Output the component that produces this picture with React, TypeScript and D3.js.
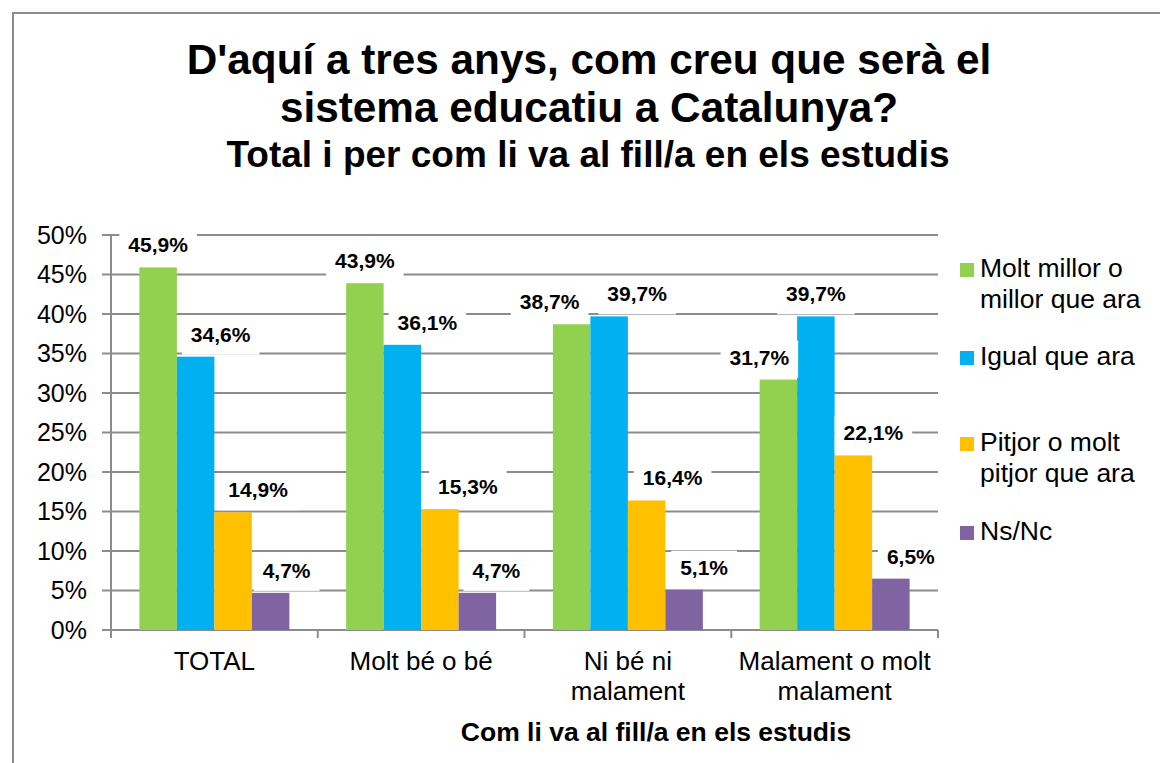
import React, { useEffect, useRef } from 'react'
import * as d3 from 'd3'

// categories (x axis groups)
const categories = ['TOTAL', 'Molt bé o bé', 'Ni bé ni malament', 'Malament o molt malament']
const categoryLines = [['TOTAL'], ['Molt bé o bé'], ['Ni bé ni', 'malament'], ['Malament o molt', 'malament']]

// series
const seriesKeys = ['millor', 'igual', 'pitjor', 'nsnc']
const legendLines = [['Molt millor o', 'millor que ara'], ['Igual que ara'], ['Pitjor o molt', 'pitjor que ara'], ['Ns/Nc']]
const millorValues = [45.9, 43.9, 38.7, 31.7]
const igualValues = [34.6, 36.1, 39.7, 39.7]
const pitjorValues = [14.9, 15.3, 16.4, 22.1]
const nsncValues = [4.7, 4.7, 5.1, 6.5]
const seriesColors = ['#92D050', '#00B0F0', '#FFC000', '#8064A2']

const yTicks = [0, 5, 10, 15, 20, 25, 30, 35, 40, 45, 50]

const titleLines = ["D'aquí a tres anys, com creu que serà el", 'sistema educatiu a Catalunya?']
const subtitle = 'Total i per com li va al fill/a en els estudis'
const xAxisTitle = 'Com li va al fill/a en els estudis'

// horizontal nudges of data labels (excel moved them around to avoid overlaps)
const labelNudge = [
  [0, 0, -22, -19],
  [25, 25, 28, 0],
  [25, 28, 26, 20],
  [16, 19, 20, 20],
]

const FONT = "'Liberation Sans', Arial, sans-serif"
const fmt = (v: number) => `${v.toFixed(1).replace('.', ',')}%`

const App: React.FC = () => {
  const svgRef = useRef<SVGSVGElement>(null)

  useEffect(() => {
    const svg = d3.select(svgRef.current)
    svg.selectAll('*').remove()

    const plot = { left: 111, right: 938, top: 235, bottom: 630 }
    const series = [millorValues, igualValues, pitjorValues, nsncValues]

    // frame
    svg
      .append('rect')
      .attr('x', 13)
      .attr('y', 13)
      .attr('width', 1300)
      .attr('height', 900)
      .attr('fill', 'white')
      .attr('stroke', '#8c8c8c')
      .attr('stroke-width', 2)

    const x0 = d3.scaleBand<string>().domain(categories).range([plot.left, plot.right]).padding(0)
    const x1 = d3
      .scaleBand<string>()
      .domain(seriesKeys)
      .range([0, x0.bandwidth()])
      .paddingInner(0)
      .paddingOuter(0.757)
    const y = d3.scaleLinear().domain([0, 50]).range([plot.bottom, plot.top])

    // gridlines
    svg
      .append('g')
      .selectAll('line')
      .data(yTicks)
      .enter()
      .append('line')
      .attr('x1', plot.left - 9)
      .attr('x2', plot.right)
      .attr('y1', (d) => y(d))
      .attr('y2', (d) => y(d))
      .attr('stroke', '#8c8c8c')
      .attr('stroke-width', 2)

    // y axis line
    svg
      .append('line')
      .attr('x1', plot.left)
      .attr('x2', plot.left)
      .attr('y1', plot.top)
      .attr('y2', plot.bottom)
      .attr('stroke', '#8c8c8c')
      .attr('stroke-width', 2)

    // x axis ticks at category boundaries
    const boundaries = categories.map((c) => x0(c) as number).concat([plot.right])
    svg
      .append('g')
      .selectAll('line')
      .data(boundaries)
      .enter()
      .append('line')
      .attr('x1', (d) => d)
      .attr('x2', (d) => d)
      .attr('y1', plot.bottom)
      .attr('y2', plot.bottom + 8)
      .attr('stroke', '#8c8c8c')
      .attr('stroke-width', 2)

    // y tick labels
    svg
      .append('g')
      .selectAll('text')
      .data(yTicks)
      .enter()
      .append('text')
      .attr('x', 87)
      .attr('y', (d) => y(d) + 8.5)
      .attr('text-anchor', 'end')
      .attr('font-family', FONT)
      .attr('font-size', 25)
      .attr('fill', '#000')
      .text((d) => `${d}%`)

    // bars
    series.forEach((vals, si) => {
      svg
        .append('g')
        .selectAll('rect')
        .data(vals)
        .enter()
        .append('rect')
        .attr('x', (_, i) => (x0(categories[i]) as number) + (x1(seriesKeys[si]) as number))
        .attr('y', (d) => y(d))
        .attr('width', x1.bandwidth())
        .attr('height', (d) => y(0) - y(d))
        .attr('fill', seriesColors[si])
    })

    // data labels with white boxes
    const labelGroup = svg.append('g')
    series.forEach((vals, si) => {
      vals.forEach((v, ci) => {
        const cx =
          (x0(categories[ci]) as number) +
          (x1(seriesKeys[si]) as number) +
          x1.bandwidth() / 2 +
          labelNudge[si][ci]
        const baseline = y(v) - 15
        const box = labelGroup.append('rect').attr('fill', 'white')
        const t = labelGroup
          .append('text')
          .attr('x', cx)
          .attr('y', baseline)
          .attr('text-anchor', 'middle')
          .attr('font-family', FONT)
          .attr('font-weight', 'bold')
          .attr('font-size', 21)
          .attr('fill', '#000')
          .text(fmt(v))
        const w = (t.node() as SVGTextElement).getComputedTextLength()
        box
          .attr('x', cx - w / 2 - 9)
          .attr('y', baseline - 24)
          .attr('width', w + 18)
          .attr('height', 37)
      })
    })

    // category labels
    categoryLines.forEach((lines, ci) => {
      const cx = (x0(categories[ci]) as number) + x0.bandwidth() / 2
      const t = svg
        .append('text')
        .attr('text-anchor', 'middle')
        .attr('font-family', FONT)
        .attr('font-size', 26)
        .attr('fill', '#000')
      lines.forEach((line, li) => {
        t.append('tspan').attr('x', cx).attr('y', 670 + li * 30).text(line)
      })
    })

    // x axis title
    svg
      .append('text')
      .attr('x', 656)
      .attr('y', 741)
      .attr('text-anchor', 'middle')
      .attr('font-family', FONT)
      .attr('font-weight', 'bold')
      .attr('font-size', 26.5)
      .attr('fill', '#000')
      .text(xAxisTitle)

    // title
    titleLines.forEach((line, i) => {
      svg
        .append('text')
        .attr('x', 589)
        .attr('y', 74 + i * 48)
        .attr('text-anchor', 'middle')
        .attr('font-family', FONT)
        .attr('font-weight', 'bold')
        .attr('font-size', 42.3)
        .attr('fill', '#000')
        .text(line)
    })
    svg
      .append('text')
      .attr('x', 588)
      .attr('y', 167)
      .attr('text-anchor', 'middle')
      .attr('font-family', FONT)
      .attr('font-weight', 'bold')
      .attr('font-size', 37)
      .attr('fill', '#000')
      .text(subtitle)

    // legend
    const legendBaselines = [277, 365, 451, 540]
    legendLines.forEach((lines, si) => {
      const by = legendBaselines[si]
      svg
        .append('rect')
        .attr('x', 960)
        .attr('y', by - 14)
        .attr('width', 14)
        .attr('height', 14)
        .attr('fill', seriesColors[si])
      const t = svg
        .append('text')
        .attr('font-family', FONT)
        .attr('font-size', 26.5)
        .attr('fill', '#000')
      lines.forEach((line, li) => {
        t.append('tspan').attr('x', 980).attr('y', by + li * 31).text(line)
      })
    })
  }, [])

  return (
    <svg
      ref={svgRef}
      width={1160}
      height={763}
      style={{ position: 'absolute', left: 0, top: 0, background: 'white' }}
    />
  )
}

export default App
